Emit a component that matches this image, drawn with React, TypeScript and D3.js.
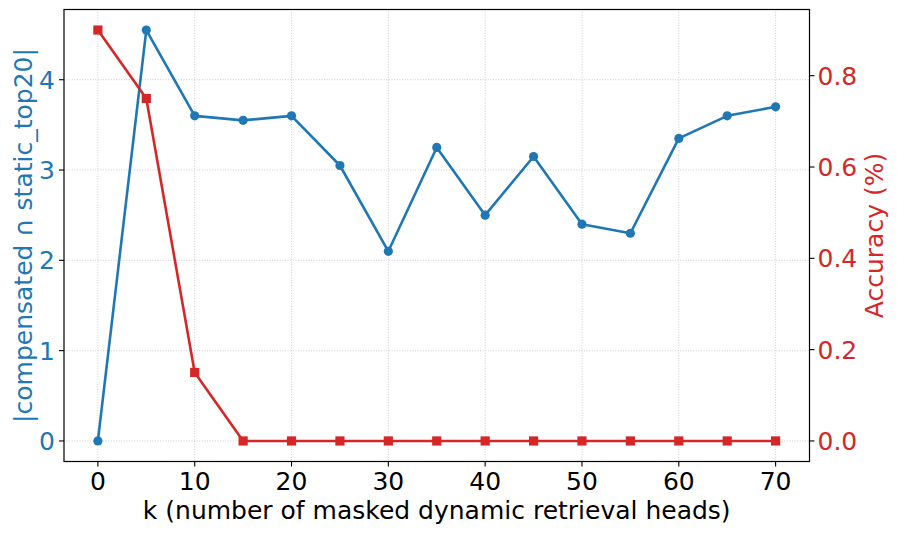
import React from "react";
import * as d3 from "d3";

const kValues = [0, 5, 10, 15, 20, 25, 30, 35, 40, 45, 50, 55, 60, 65, 70];
const overlapValues = [0, 4.55, 3.6, 3.55, 3.6, 3.05, 2.1, 3.25, 2.5, 3.15, 2.4, 2.3, 3.35, 3.6, 3.7];
const accuracyValues = [0.9, 0.75, 0.15, 0, 0, 0, 0, 0, 0, 0, 0, 0, 0, 0, 0];
const xTicks = [0, 10, 20, 30, 40, 50, 60, 70];
const leftTicks = [0, 1, 2, 3, 4];
const rightTicks = [0, 0.2, 0.4, 0.6, 0.8];

const BLUE = "#1f77b4";
const RED = "#d62728";
const FONT = "DejaVu Sans, sans-serif";
const FS = 25;

export default function App() {
  const W = 897, H = 534;
  const L = 64, R = 809.5, T = 9.5, B = 461.5;

  const x = d3.scaleLinear().domain([-3.5, 73.5]).range([L, R]);
  const yL = d3.scaleLinear().domain([-0.2275, 4.7775]).range([B, T]);
  const yR = d3.scaleLinear().domain([-0.045, 0.945]).range([B, T]);

  const lineL = d3.line<number>().x((_, i) => x(kValues[i])).y((d) => yL(d));
  const lineR = d3.line<number>().x((_, i) => x(kValues[i])).y((d) => yR(d));

  return (
    <svg width={W} height={H} style={{ position: "absolute", left: 0, top: 0 }} fontFamily={FONT}>
      <rect x={0} y={0} width={W} height={H} fill="#fff" />
      {/* grid */}
      {xTicks.map((t) => (
        <line key={"gx" + t} x1={x(t)} x2={x(t)} y1={T} y2={B} stroke="#b0b0b0" strokeOpacity={0.7} strokeWidth={0.9} strokeDasharray="1,1.6" />
      ))}
      {leftTicks.map((t) => (
        <line key={"gy" + t} x1={L} x2={R} y1={yL(t)} y2={yL(t)} stroke="#b0b0b0" strokeOpacity={0.7} strokeWidth={0.9} strokeDasharray="1,1.6" />
      ))}
      {/* blue series */}
      <path d={lineL(overlapValues) || ""} fill="none" stroke={BLUE} strokeWidth={2.6} strokeLinejoin="round" />
      {overlapValues.map((v, i) => (
        <circle key={"c" + i} cx={x(kValues[i])} cy={yL(v)} r={4.6} fill={BLUE} />
      ))}
      {/* red series */}
      <path d={lineR(accuracyValues) || ""} fill="none" stroke={RED} strokeWidth={2.6} strokeLinejoin="round" />
      {accuracyValues.map((v, i) => (
        <rect key={"s" + i} x={x(kValues[i]) - 4.6} y={yR(v) - 4.6} width={9.2} height={9.2} fill={RED} />
      ))}
      {/* frame */}
      <rect x={L} y={T} width={R - L} height={B - T} fill="none" stroke="#000" strokeWidth={1.2} />
      {/* x ticks */}
      {xTicks.map((t) => (
        <g key={"xt" + t}>
          <line x1={x(t)} x2={x(t)} y1={B} y2={B + 5} stroke="#000" strokeWidth={1.1} />
          <text x={x(t)} y={B + 28} textAnchor="middle" fontSize={FS} fill="#000">{t}</text>
        </g>
      ))}
      {/* left ticks */}
      {leftTicks.map((t) => (
        <g key={"lt" + t}>
          <line x1={L - 5} x2={L} y1={yL(t)} y2={yL(t)} stroke="#000" strokeWidth={1.1} />
          <text x={L - 9} y={yL(t) + 9} textAnchor="end" fontSize={FS} fill={BLUE}>{t}</text>
        </g>
      ))}
      {/* right ticks */}
      {rightTicks.map((t) => (
        <g key={"rt" + t}>
          <line x1={R} x2={R + 5} y1={yR(t)} y2={yR(t)} stroke="#000" strokeWidth={1.1} />
          <text x={R + 8} y={yR(t) + 9} textAnchor="start" fontSize={FS} fill={RED}>{t.toFixed(1)}</text>
        </g>
      ))}
      {/* axis labels */}
      <text x={(L + R) / 2} y={519} textAnchor="middle" fontSize={FS} fill="#000">k (number of masked dynamic retrieval heads)</text>
      <text transform={`translate(32, ${(T + B) / 2}) rotate(-90)`} textAnchor="middle" fontSize={FS} fill={BLUE}>|compensated ∩ static_top20|</text>
      <text transform={`translate(883, ${(T + B) / 2}) rotate(-90)`} textAnchor="middle" fontSize={FS} fill={RED}>Accuracy (%)</text>
    </svg>
  );
}
